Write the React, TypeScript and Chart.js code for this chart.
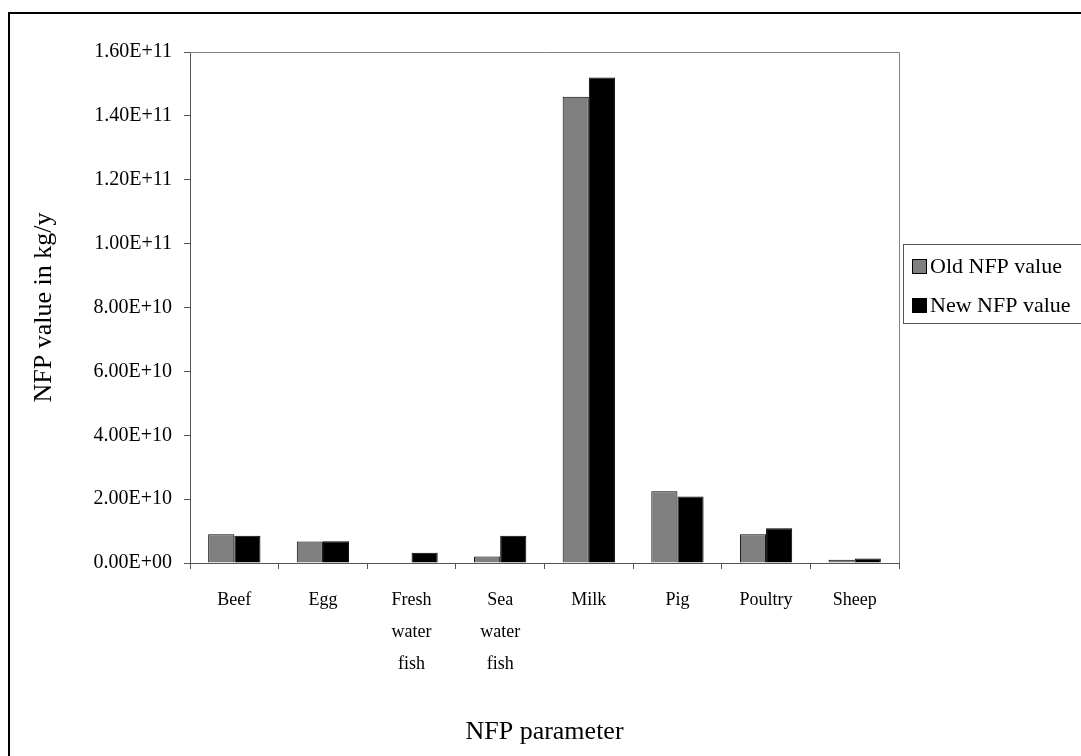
import { useEffect, useRef } from "react";
import { Chart, registerables } from "chart.js";

Chart.register(...registerables);

const categories: string[][] = [
  ["Beef"],
  ["Egg"],
  ["Fresh", "water", "fish"],
  ["Sea", "water", "fish"],
  ["Milk"],
  ["Pig"],
  ["Poultry"],
  ["Sheep"],
];
const oldValues = [9.0e9, 6.7e9, 0, 2.0e9, 1.46e11, 2.25e10, 9.0e9, 1.0e9];
const newValues = [8.5e9, 6.8e9, 3.2e9, 8.5e9, 1.52e11, 2.08e10, 1.09e10, 1.4e9];
const seriesNames = ["Old NFP value", "New NFP value"];
const seriesColors = ["#808080", "#000000"];
const yMin = 0;
const yMax = 1.6e11;
const yStep = 2e10;
const yTitle = "NFP value in kg/y";
const xTitle = "NFP parameter";

const FONT = "'Liberation Serif', 'Times New Roman', serif";

function sci(v: number): string {
  const s = Number(v).toExponential(2).toUpperCase();
  const m = s.match(/^(-?[\d.]+)E([+-])(\d+)$/);
  if (!m) return s;
  return `${m[1]}E${m[2]}${m[3].padStart(2, "0")}`;
}

const framePlugin = {
  id: "framePlugin",
  afterDraw(chart: any) {
    const ctx = chart.ctx as CanvasRenderingContext2D;
    const { left, top, right, bottom } = chart.chartArea;
    ctx.save();
    // outer frame
    ctx.strokeStyle = "#000";
    ctx.lineWidth = 2;
    ctx.strokeRect(9, 13, 1100, 780);
    // plot area border (top & right)
    ctx.strokeStyle = "#808080";
    ctx.lineWidth = 1;
    ctx.beginPath();
    ctx.moveTo(Math.round(left), Math.round(top) + 0.5);
    ctx.lineTo(Math.round(right) + 0.5, Math.round(top) + 0.5);
    ctx.lineTo(Math.round(right) + 0.5, Math.round(bottom));
    ctx.stroke();
    // legend
    const bx = 903.5, by = 244.5, bw = 178, bh = 79;
    ctx.strokeStyle = "#555";
    ctx.strokeRect(bx, by, bw, bh);
    ctx.font = `22px ${FONT}`;
    ctx.textBaseline = "middle";
    ctx.textAlign = "left";
    chart.data.datasets.forEach((ds: any, i: number) => {
      const cy = 266 + i * 39;
      ctx.fillStyle = ds.backgroundColor;
      ctx.fillRect(912, cy - 7, 15, 15);
      ctx.strokeStyle = "#000";
      ctx.strokeRect(912.5, cy - 6.5, 14, 14);
      ctx.fillStyle = "#000";
      ctx.fillText(ds.label, 930, cy + 1);
    });
    ctx.restore();
  },
};

export default function App() {
  const ref = useRef<HTMLCanvasElement | null>(null);
  useEffect(() => {
    if (!ref.current) return;
    const chart = new Chart(ref.current, {
      type: "bar",
      data: {
        labels: categories,
        datasets: [
          {
            label: seriesNames[0],
            data: oldValues,
            backgroundColor: seriesColors[0],
            borderColor: "#000",
            borderWidth: 1,
            categoryPercentage: 0.59,
            barPercentage: 1,
          },
          {
            label: seriesNames[1],
            data: newValues,
            backgroundColor: seriesColors[1],
            borderColor: "#000",
            borderWidth: 1,
            categoryPercentage: 0.59,
            barPercentage: 1,
          },
        ],
      },
      options: {
        responsive: false,
        animation: false,
        layout: { padding: { left: 0, top: 52, right: 182, bottom: 0 } },
        plugins: { legend: { display: false }, tooltip: { enabled: false } },
        scales: {
          x: {
            grid: {
              drawOnChartArea: false,
              drawTicks: true,
              tickLength: 6,
              color: "#555",
              offset: true,
            },
            border: { color: "#555", width: 1 },
            ticks: {
              autoSkip: false,
              maxRotation: 0,
              minRotation: 0,
              padding: 15,
              color: "#000",
              font: { family: FONT, size: 18, lineHeight: 1.78 },
            },
            title: {
              display: true,
              text: xTitle,
              color: "#000",
              font: { family: FONT, size: 26 },
              padding: { top: 8, bottom: 8 },
            },
            afterFit(scale: any) {
              scale.height = 193;
            },
          },
          y: {
            min: yMin,
            max: yMax,
            grid: {
              drawOnChartArea: false,
              drawTicks: true,
              tickLength: 6,
              color: "#555",
            },
            border: { color: "#555", width: 1 },
            ticks: {
              stepSize: yStep,
              padding: 12,
              color: "#000",
              font: { family: FONT, size: 20 },
              callback: (v: any) => sci(Number(v)),
            },
            title: {
              display: true,
              text: yTitle,
              color: "#000",
              font: { family: FONT, size: 26 },
              padding: { top: 29, bottom: 29 },
            },
            afterFit(scale: any) {
              scale.width = 190;
            },
          },
        },
      },
      plugins: [framePlugin],
    });
    return () => chart.destroy();
  }, []);
  return (
    <div style={{ position: "absolute", left: 0, top: 0, width: 1081, height: 756 }}>
      <canvas ref={ref} width={1081} height={756} />
    </div>
  );
}
